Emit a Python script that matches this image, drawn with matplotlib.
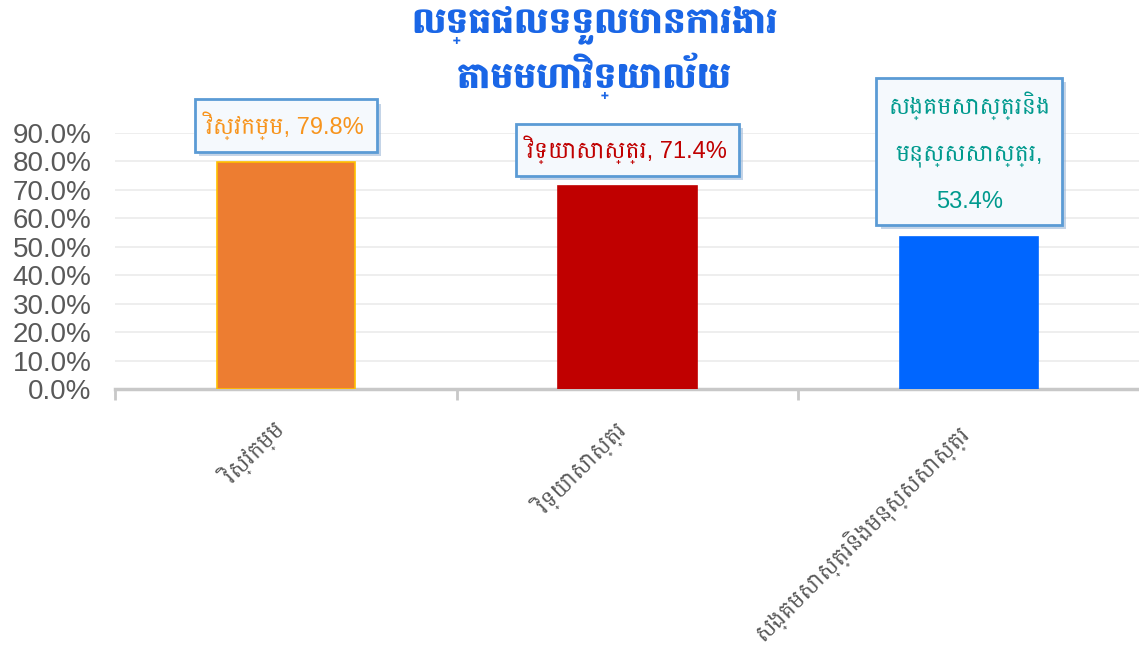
import matplotlib.pyplot as plt
import matplotlib.patheffects as pe
from matplotlib.ticker import PercentFormatter

plt.rcParams["font.family"] = ["Liberation Sans", "Battambang", "DejaVu Sans"]

title = "លទ្ធផលទទួលបានការងារ\nតាមមហាវិទ្យាល័យ"
faculties = ["វិស្វកម្ម", "វិទ្យាសាស្ត្រ", "សង្គមសាស្ត្រនិងមនុស្សសាស្ត្រ"]
label_names = ["វិស្វកម្ម", "វិទ្យាសាស្ត្រ", "សង្គមសាស្ត្រនិង\nមនុស្សសាស្ត្រ"]
rates = [0.798, 0.714, 0.534]
yticks = [0.0, 0.1, 0.2, 0.3, 0.4, 0.5, 0.6, 0.7, 0.8, 0.9]

bar_colors = ["#ED7D31", "#C00000", "#0066FF"]
edge_colors = ["#FFC000", "#C00000", "#0066FF"]
text_colors = ["#F7941D", "#C00000", "#009A8E"]

fig = plt.figure(figsize=(11.39, 6.55), dpi=100)
ax = fig.add_axes([0.101, 0.406, 0.9, 0.391])

x = range(len(faculties))
ax.bar(x, rates, width=0.405, color=bar_colors, edgecolor=edge_colors,
       linewidth=1.2, zorder=3)

ax.set_xlim(-0.5, 2.5)
ax.set_ylim(0, 0.9)
ax.set_yticks(yticks)
ax.yaxis.set_major_formatter(PercentFormatter(1.0, decimals=1))
ax.grid(axis="y", color="#EDEDED", linewidth=1.3, zorder=0)
ax.tick_params(axis="y", length=0, labelsize=20, labelcolor="#595959", pad=17)

# category boundaries carry the tick marks, names sit under bar centres
ax.set_xticks([-0.5, 0.5, 1.5, 2.5])
ax.set_xticklabels([])
ax.tick_params(axis="x", length=8, width=2, color="#C8C8C8", direction="out")
for i, name in enumerate(faculties):
    ax.text(i - 0.04, -0.105, name, rotation=45, ha="right", va="top",
            rotation_mode="anchor", fontsize=16.5, color="#595959",
            transform=ax.transData, clip_on=False)

for s in ["top", "right", "left"]:
    ax.spines[s].set_visible(False)
ax.spines["bottom"].set_color("#C8C8C8")
ax.spines["bottom"].set_linewidth(2.5)

# data callouts
offsets = [0.128, 0.127, 0.299]
for i, (name, v) in enumerate(zip(label_names, rates)):
    if "\n" in name:
        s = f"{name},\n{v * 100:.1f}%"
    else:
        s = f"{name}, {v * 100:.1f}%"
    t = ax.text(i, v + offsets[i], s, ha="center", va="center",
                fontsize=17, color=text_colors[i], linespacing=2.4,
                clip_on=False, zorder=5,
                bbox=dict(boxstyle="square,pad=0.5", facecolor="#F5F9FD",
                          edgecolor="#5B9BD5", linewidth=2))
    t.get_bbox_patch().set_path_effects(
        [pe.withSimplePatchShadow(offset=(3, -3), shadow_rgbFace="#9DB8D8", alpha=0.6)])

fig.text(0.522, 0.992, title, ha="center", va="top", fontsize=26,
         fontweight=900, family=["Battambang", "DejaVu Sans"],
         color="#1A66E6", linespacing=1.26)

plt.savefig("out.png", dpi=100)
